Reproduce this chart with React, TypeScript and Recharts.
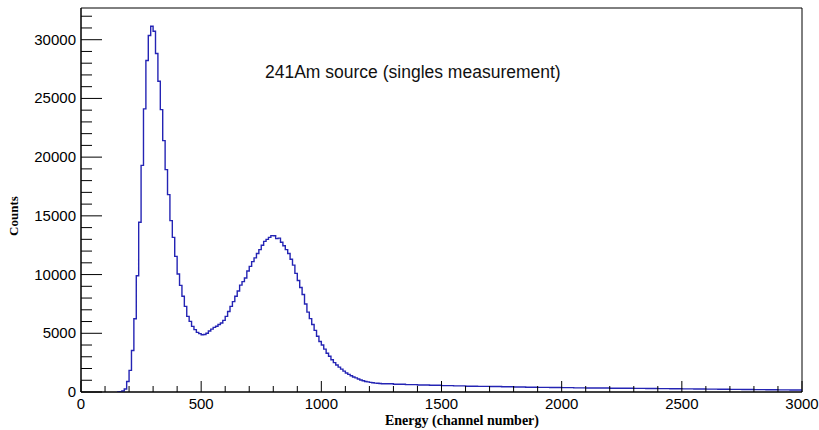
import React from "react";
import { LineChart, Line, XAxis, YAxis, ReferenceArea, Customized } from "recharts";

// lower bin edges (channel) and counts
const channels = [
  150, 160, 170, 180, 190, 200, 210, 220, 230, 240,
  250, 260, 270, 280, 290, 300, 310, 320, 330, 340,
  350, 360, 370, 380, 390, 400, 410, 420, 430, 440,
  450, 460, 470, 480, 490, 500, 510, 520, 530, 540,
  550, 560, 570, 580, 590, 600, 610, 620, 630, 640,
  650, 660, 670, 680, 690, 700, 710, 720, 730, 740,
  750, 760, 770, 780, 790, 800, 810, 820, 830, 840,
  850, 860, 870, 880, 890, 900, 910, 920, 930, 940,
  950, 960, 970, 980, 990, 1000, 1010, 1020, 1030, 1040,
  1050, 1060, 1070, 1080, 1090, 1100, 1110, 1120, 1130, 1140,
  1150, 1160, 1170, 1180, 1190, 1200, 1210, 1220, 1230, 1240,
  1250, 1300, 1350, 1400, 1450, 1500, 1550, 1600, 1650, 1700,
  1750, 1800, 1850, 1900, 1950, 2000, 2050, 2100, 2150, 2200,
  2250, 2300, 2350, 2400, 2450, 2500, 2550, 2600, 2650, 2700,
  2750, 2800, 2850, 2900, 2950, 3000,
];

const counts = [
  0, 20, 80, 250, 900, 1840, 3540, 6240, 9900, 14450,
  19300, 24110, 28230, 30360, 31150, 30720, 28820, 26460, 24050, 21410,
  18940, 16810, 14590, 13170, 11550, 10050, 9080, 8150, 7290, 6440,
  6015, 5590, 5310, 5080, 4970, 4880, 4900, 5000, 5200, 5350,
  5500, 5600, 5750, 5880, 6100, 6440, 6850, 7290, 7700, 8150,
  8600, 9100, 9400, 9710, 10300, 10700, 11100, 11420, 11800, 12120,
  12500, 12830, 13000, 13170, 13320, 13300, 13060, 13100, 12750, 12450,
  12120, 11800, 11300, 10800, 10100, 9500, 8900, 8300, 7500, 6800,
  6250, 5750, 5250, 4750, 4300, 4000, 3650, 3300, 3050, 2750,
  2500, 2300, 2120, 1950, 1780, 1620, 1500, 1380, 1280, 1200,
  1110, 1020, 960, 900, 860, 820, 790, 760, 740, 720,
  700, 660, 630, 600, 570, 540, 520, 495, 480, 465,
  450, 430, 410, 395, 380, 370, 355, 345, 335, 325,
  315, 305, 295, 285, 275, 265, 255, 245, 235, 225,
  215, 205, 195, 185, 175, 175,
];

const xTicks = [
  0, 100, 200, 300, 400, 500, 600, 700, 800, 900, 1000,
  1100, 1200, 1300, 1400, 1500, 1600, 1700, 1800, 1900, 2000,
  2100, 2200, 2300, 2400, 2500, 2600, 2700, 2800, 2900, 3000,
];
const xLabels = [0, 500, 1000, 1500, 2000, 2500, 3000];

const yTicks = [
  0, 1000, 2000, 3000, 4000, 5000, 6000, 7000, 8000, 9000, 10000,
  11000, 12000, 13000, 14000, 15000, 16000, 17000, 18000, 19000, 20000,
  21000, 22000, 23000, 24000, 25000, 26000, 27000, 28000, 29000, 30000,
  31000, 32000,
];
const yLabels = [0, 5000, 10000, 15000, 20000, 25000, 30000];

const data = channels.map((ch, i) => ({ ch, counts: counts[i] }));

const W = 819;
const H = 430;
const LEFT = 81;
const TOP = 8;
const RIGHT = 802;
const BOTTOM = 392;
const FONT = "'Liberation Sans', Arial, sans-serif";

function XTick(props: any) {
  const { x, payload } = props;
  const major = xLabels.includes(payload.value);
  return (
    <g>
      <line x1={x} x2={x} y1={BOTTOM} y2={BOTTOM - (major ? 11 : 6)} stroke="#000" />
      {major && (
        <text x={x} y={409} textAnchor="middle" fontSize={15} fontFamily={FONT} fill="#000">
          {payload.value}
        </text>
      )}
    </g>
  );
}

function YTick(props: any) {
  const { y, payload } = props;
  const major = yLabels.includes(payload.value);
  return (
    <g>
      <line x1={LEFT} x2={LEFT + (major ? 21 : 11)} y1={y} y2={y} stroke="#000" />
      {major && (
        <text x={76} y={y + 5} textAnchor="end" fontSize={15} fontFamily={FONT} fill="#000">
          {payload.value}
        </text>
      )}
    </g>
  );
}

function Texts() {
  return (
    <g>
      <text x={265} y={78} fontSize={17.5} fontFamily={FONT} fill="#111">
        241Am source (singles measurement)
      </text>
      <text
        x={462}
        y={425}
        textAnchor="middle"
        fontSize={14}
        fontWeight="bold"
        fontFamily="'Liberation Serif', 'Times New Roman', serif"
        fill="#000"
      >
        Energy (channel number)
      </text>
      <text
        x={18}
        y={216}
        textAnchor="middle"
        fontSize={13}
        fontWeight="bold"
        fontFamily="'Liberation Serif', 'Times New Roman', serif"
        fill="#000"
        transform="rotate(-90 18 216)"
      >
        Counts
      </text>
    </g>
  );
}

export default function App() {
  return (
    <div style={{ position: "absolute", left: 0, top: 0, width: W, height: H, background: "#fff" }}>
      <LineChart
        width={W}
        height={H}
        data={data}
        margin={{ top: TOP, right: W - RIGHT, bottom: 0, left: 0 }}
      >
        <XAxis
          dataKey="ch"
          type="number"
          domain={[0, 3000]}
          ticks={xTicks}
          interval={0}
          height={H - BOTTOM}
          tick={<XTick />}
          tickLine={false}
          axisLine={{ stroke: "#000" }}
        />
        <YAxis
          type="number"
          domain={[0, 32700]}
          ticks={yTicks}
          interval={0}
          width={LEFT}
          tick={<YTick />}
          tickLine={false}
          axisLine={{ stroke: "#000" }}
          allowDataOverflow
        />
        <ReferenceArea x1={0} x2={3000} y1={0} y2={32700} fill="none" stroke="#000" strokeWidth={1} />
        <Line
          type="stepAfter"
          dataKey="counts"
          stroke="#2424b4"
          strokeWidth={1.4}
          dot={false}
          isAnimationActive={false}
        />
        <Customized component={<Texts />} />
      </LineChart>
    </div>
  );
}
